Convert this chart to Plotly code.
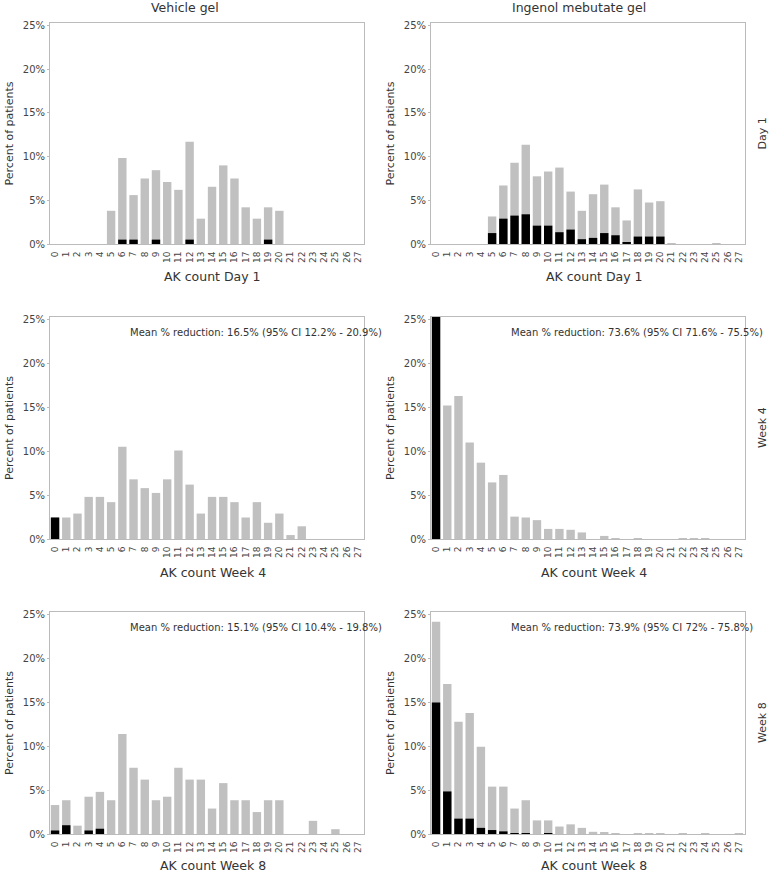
import plotly.graph_objects as go

counts = list(range(28))
tick_labels = [str(c) for c in counts]

def pad(d):
    return [d.get(c, 0) for c in counts]

# Vehicle gel, Day 1
veh_d1_total = pad({5: 3.8, 6: 9.85, 7: 5.6, 8: 7.5, 9: 8.45, 10: 7.1, 11: 6.2, 12: 11.7, 13: 2.9,
                    14: 6.55, 15: 9.0, 16: 7.5, 17: 4.2, 18: 2.9, 19: 4.2, 20: 3.8})
veh_d1_black = pad({6: 0.5, 7: 0.5, 9: 0.5, 12: 0.5, 19: 0.5})
# Ingenol mebutate gel, Day 1
ing_d1_total = pad({5: 3.15, 6: 6.7, 7: 9.3, 8: 11.35, 9: 7.75, 10: 8.3, 11: 8.75, 12: 6.0, 13: 3.8,
                    14: 5.7, 15: 6.8, 16: 4.2, 17: 2.7, 18: 6.25, 19: 4.75, 20: 4.9, 21: 0.1, 25: 0.1})
ing_d1_black = pad({5: 1.25, 6: 2.9, 7: 3.25, 8: 3.4, 9: 2.1, 10: 2.1, 11: 1.35, 12: 1.65, 13: 0.55,
                    14: 0.7, 15: 1.25, 16: 1.0, 17: 0.2, 18: 0.85, 19: 0.85, 20: 0.85})
# Vehicle gel, Week 4
veh_w4_total = pad({0: 2.45, 1: 2.45, 2: 2.9, 3: 4.8, 4: 4.8, 5: 4.2, 6: 10.5, 7: 6.8, 8: 5.8, 9: 5.25,
                    10: 6.8, 11: 10.1, 12: 6.2, 13: 2.9, 14: 4.8, 15: 4.8, 16: 4.2, 17: 2.45, 18: 4.2,
                    19: 1.85, 20: 2.9, 21: 0.45, 22: 1.45})
veh_w4_black = pad({0: 2.45})
# Ingenol mebutate gel, Week 4
ing_w4_total = pad({0: 25.3, 1: 15.2, 2: 16.3, 3: 11.0, 4: 8.7, 5: 6.45, 6: 7.3, 7: 2.55, 8: 2.45, 9: 2.15,
                    10: 1.15, 11: 1.15, 12: 1.05, 13: 0.75, 15: 0.35, 16: 0.1, 18: 0.05, 22: 0.05,
                    23: 0.05, 24: 0.05})
ing_w4_black = pad({0: 25.3})
# Vehicle gel, Week 8
veh_w8_total = pad({0: 3.3, 1: 3.85, 2: 0.95, 3: 4.25, 4: 4.8, 5: 3.85, 6: 11.4, 7: 7.55, 8: 6.2, 9: 3.85,
                    10: 4.25, 11: 7.55, 12: 6.2, 13: 6.2, 14: 2.9, 15: 5.8, 16: 3.85, 17: 3.85, 18: 2.5,
                    19: 3.85, 20: 3.85, 23: 1.5, 25: 0.55})
veh_w8_black = pad({0: 0.4, 1: 1.0, 3: 0.4, 4: 0.6})
# Ingenol mebutate gel, Week 8
ing_w8_total = pad({0: 24.2, 1: 17.1, 2: 12.8, 3: 13.8, 4: 9.95, 5: 5.4, 6: 5.4, 7: 2.9, 8: 3.85, 9: 1.55,
                    10: 1.55, 11: 0.85, 12: 1.1, 13: 0.7, 14: 0.25, 15: 0.2, 16: 0.05, 18: 0.05,
                    19: 0.05, 20: 0.05, 22: 0.05, 24: 0.05, 27: 0.05})
ing_w8_black = pad({0: 15.0, 1: 4.85, 2: 1.75, 3: 1.75, 4: 0.7, 5: 0.45, 6: 0.3, 7: 0.1, 8: 0.1, 10: 0.1})

col_titles = ["Vehicle gel", "Ingenol mebutate gel"]
row_labels = ["Day 1", "Week 4", "Week 8"]
x_titles = ["AK count Day 1", "AK count Week 4", "AK count Week 8"]
y_ticks = [0, 5, 10, 15, 20, 25]
y_tick_text = ["0%", "5%", "10%", "15%", "20%", "25%"]
reductions = [
    [None, None],
    ["Mean % reduction: 16.5% (95% CI 12.2% - 20.9%)", "Mean % reduction: 73.6% (95% CI 71.6% - 75.5%)"],
    ["Mean % reduction: 15.1% (95% CI 10.4% - 19.8%)", "Mean % reduction: 73.9% (95% CI 72% - 75.8%)"],
]

panels = [
    [(veh_d1_total, veh_d1_black), (ing_d1_total, ing_d1_black)],
    [(veh_w4_total, veh_w4_black), (ing_w4_total, ing_w4_black)],
    [(veh_w8_total, veh_w8_black), (ing_w8_total, ing_w8_black)],
]

W, H = 770, 874
col_px = [(50, 364), (431, 745)]
row_px = [(23, 244), (317, 539), (612, 834)]
xtitle_cx = [213, 594]
xtitle_cy = [277, 572, 865]

FONT = "DejaVu Sans"
fig = go.Figure()
layout = dict(
    width=W, height=H, margin=dict(l=0, r=0, t=0, b=0, autoexpand=False),
    paper_bgcolor="white", plot_bgcolor="white", barmode="overlay", showlegend=False,
    font=dict(family=FONT, color="#333333"),
)
annotations = []
idx = 0
for r in range(3):
    for c in range(2):
        idx += 1
        xa = "x" if idx == 1 else f"x{idx}"
        ya = "y" if idx == 1 else f"y{idx}"
        total, black = panels[r][c]
        fig.add_trace(go.Bar(x=counts, y=total, marker=dict(color="#c0c0c0", line=dict(width=0)),
                             width=0.75, xaxis=xa, yaxis=ya))
        fig.add_trace(go.Bar(x=counts, y=black, marker=dict(color="#000000", line=dict(width=0)),
                             width=0.75, xaxis=xa, yaxis=ya))
        x0, x1 = col_px[c]
        t0, t1 = row_px[r]
        axx = "xaxis" if idx == 1 else f"xaxis{idx}"
        axy = "yaxis" if idx == 1 else f"yaxis{idx}"
        layout[axx] = dict(
            domain=[x0 / W, x1 / W], anchor=ya, range=[-0.45, 27.55], automargin=False,
            tickmode="array", tickvals=counts, ticktext=tick_labels, tickangle=-90,
            tickfont=dict(size=9, color="#444444"), showgrid=False, zeroline=False,
            showline=True, linecolor="#bbbbbb", linewidth=1, mirror=True,
            ticks="", ticklabelstandoff=3,
        )
        layout[axy] = dict(
            domain=[1 - t1 / H, 1 - t0 / H], anchor=xa, range=[0, 25.3], automargin=False,
            tickmode="array", tickvals=y_ticks, ticktext=y_tick_text,
            tickfont=dict(size=10, color="#444444"), showgrid=False, zeroline=False,
            showline=True, linecolor="#bbbbbb", linewidth=1, mirror=True,
            ticks="outside", ticklen=2, tickcolor="#bbbbbb",
            title=dict(text="Percent of patients", font=dict(size=11, color="#333333"), standoff=6),
        )
        annotations.append(dict(
            text=x_titles[r], xref="paper", yref="paper",
            x=xtitle_cx[c] / W, y=1 - xtitle_cy[r] / H, xanchor="center", yanchor="middle",
            showarrow=False, font=dict(size=12.5, color="#333333"),
        ))
        if reductions[r][c]:
            annotations.append(dict(
                text=reductions[r][c], xref="paper", yref="paper",
                x=(x0 + 78) / W, y=1 - (t0 + 15) / H, xanchor="left", yanchor="middle",
                showarrow=False, font=dict(size=10, color="#333333"),
            ))
    annotations.append(dict(
        text=row_labels[r], xref="paper", yref="paper", x=762 / W, y=1 - ((row_px[r][0] + row_px[r][1]) / 2) / H,
        xanchor="center", yanchor="middle", textangle=-90, showarrow=False,
        font=dict(size=11, color="#333333"),
    ))

annotations.append(dict(text=col_titles[0], xref="paper", yref="paper", x=185 / W, y=1 - 7 / H,
                        xanchor="center", yanchor="middle", showarrow=False, font=dict(size=12.5, color="#333333")))
annotations.append(dict(text=col_titles[1], xref="paper", yref="paper", x=579 / W, y=1 - 7 / H,
                        xanchor="center", yanchor="middle", showarrow=False, font=dict(size=12.5, color="#333333")))
layout["annotations"] = annotations
fig.update_layout(**layout)
fig.write_html("out.html", config={"displayModeBar": False},
               post_script="document.body.style.margin='0';document.body.style.overflow='hidden';")
